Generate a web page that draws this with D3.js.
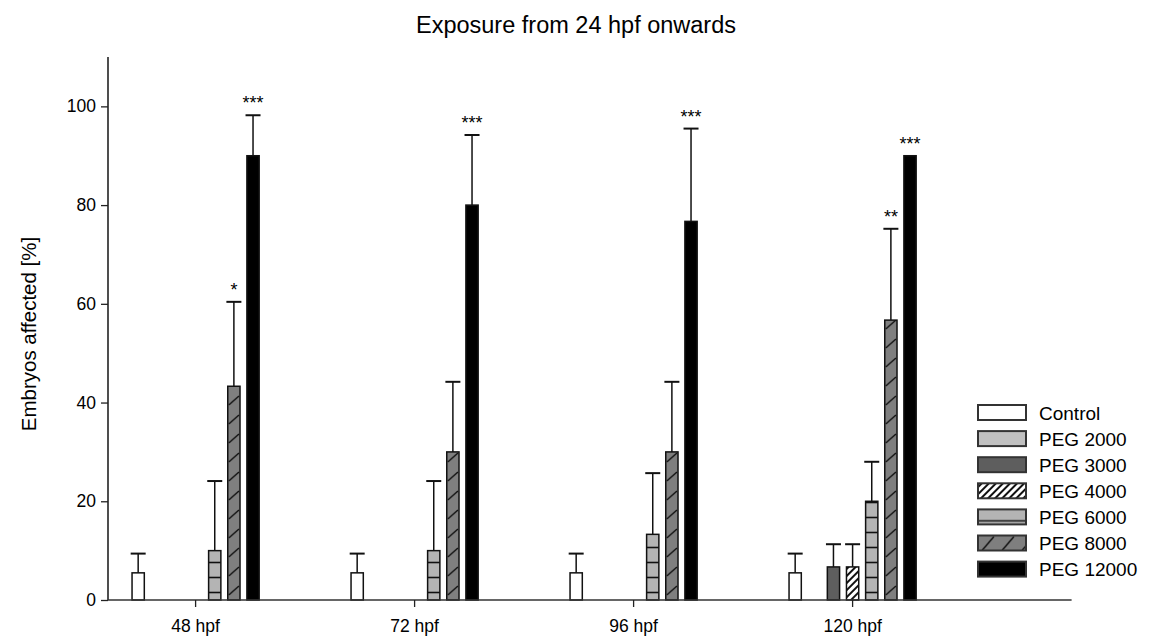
<!DOCTYPE html>
<html>
<head>
<meta charset="utf-8">
<script src="https://cdn.jsdelivr.net/npm/d3@7"></script>
<style>
body { margin: 0; background: #fff; }
svg { display: block; }
text { font-family: "Liberation Sans", Arial, sans-serif; fill: #000; }
</style>
</head>
<body>
<svg width="1150" height="644"></svg>
<script>
// ---- data ----
var groups = ["48 hpf", "72 hpf", "96 hpf", "120 hpf"];
var series = ["Control", "PEG 2000", "PEG 3000", "PEG 4000", "PEG 6000", "PEG 8000", "PEG 12000"];

// means per group (null = no bar drawn)
var control  = [5.5, 5.5, 5.5, 5.5];
var peg2000  = [null, null, null, null];
var peg3000  = [null, null, null, 6.7];
var peg4000  = [null, null, null, 6.7];
var peg6000  = [10, 10, 13.3, 20];
var peg8000  = [43.3, 30, 30, 56.7];
var peg12000 = [90, 80, 76.7, 90];

// standard deviations (upper error bar only)
var controlSd  = [3.9, 3.9, 3.9, 3.9];
var peg2000Sd  = [null, null, null, null];
var peg3000Sd  = [null, null, null, 4.6];
var peg4000Sd  = [null, null, null, 4.6];
var peg6000Sd  = [14.1, 14.1, 12.4, 8.0];
var peg8000Sd  = [17.1, 14.2, 14.2, 18.5];
var peg12000Sd = [8.2, 14.2, 18.8, 0];

// significance marks
var peg8000Sig  = ["*", "", "", "**"];
var peg12000Sig = ["***", "***", "***", "***"];

var yTicks = [0, 20, 40, 60, 80, 100];

var means = [control, peg2000, peg3000, peg4000, peg6000, peg8000, peg12000];
var sds = [controlSd, peg2000Sd, peg3000Sd, peg4000Sd, peg6000Sd, peg8000Sd, peg12000Sd];
var sigs = [null, null, null, null, null, peg8000Sig, peg12000Sig];

var svg = d3.select("svg");
var defs = svg.append("defs");

var xLeft = 108, xRight = 1071.6, step = 219;
var x0 = d3.scaleBand().domain(groups)
    .range([xLeft + 0.4 * step - 0.5 * step, xLeft + 3.9 * step]);
var x1 = d3.scaleBand().domain(series).range([-67, 67])
    .paddingInner(0.36).paddingOuter(0.18);
var y = d3.scaleLinear().domain([0, 110]).range([600, 57]);

var fills = {
    "Control": "#ffffff",
    "PEG 2000": "#c0c0c0",
    "PEG 3000": "#5e5e5e",
    "PEG 4000": "#ffffff",
    "PEG 6000": "#b4b4b4",
    "PEG 8000": "#7f7f7f",
    "PEG 12000": "#000000"
};

// hatching for PEG 4000
var hatch = defs.append("pattern").attr("id", "hatch4000")
    .attr("patternUnits", "userSpaceOnUse")
    .attr("width", 5).attr("height", 5)
    .attr("patternTransform", "rotate(45)");
hatch.append("rect").attr("width", 5).attr("height", 5).attr("fill", "#fff");
hatch.append("rect").attr("width", 2).attr("height", 5).attr("fill", "#111");

// build a pattern anchored at a bar (or swatch)
function makePattern(id, name, bx, by, bw, legend) {
    var p = defs.append("pattern").attr("id", id)
        .attr("patternUnits", "userSpaceOnUse")
        .attr("x", bx).attr("y", by);
    if (name === "PEG 6000") {
        p.attr("width", bw).attr("height", 15);
        p.append("rect").attr("width", bw).attr("height", 15).attr("fill", fills[name]);
        p.append("line").attr("x1", 0).attr("x2", bw)
            .attr("y1", legend ? 11.5 : 7.5).attr("y2", legend ? 11.5 : 7.5)
            .attr("stroke", "#111").attr("stroke-width", 1.6);
    } else if (name === "PEG 8000") {
        var h = legend ? 15 : 19, w = legend ? 20 : bw;
        p.attr("width", w).attr("height", h);
        p.append("rect").attr("width", w).attr("height", h).attr("fill", fills[name]);
        if (legend) {
            p.append("line").attr("x1", 4).attr("y1", 15).attr("x2", 16).attr("y2", 1)
                .attr("stroke", "#111").attr("stroke-width", 1.5);
        } else {
            p.append("line").attr("x1", 1).attr("y1", 14).attr("x2", w - 1).attr("y2", 5)
                .attr("stroke", "#111").attr("stroke-width", 1.5);
        }
    }
    return "url(#" + id + ")";
}

function fillFor(name, id, bx, by, bw, legend) {
    if (name === "PEG 4000") return "url(#hatch4000)";
    if (name === "PEG 6000" || name === "PEG 8000") return makePattern(id, name, bx, by, bw, legend);
    return fills[name];
}

// flatten to bar records
var bars = [];
series.forEach(function(s, si) {
    groups.forEach(function(g, gi) {
        if (means[si][gi] == null) return;
        bars.push({ series: s, si: si, group: g, gi: gi, value: means[si][gi],
            sd: sds[si][gi], sig: sigs[si] ? sigs[si][gi] : "" });
    });
});

function barX(d) { return x0(d.group) + x0.bandwidth() / 2 + x1(d.series); }
var bw = x1.bandwidth();

// title
svg.append("text").attr("x", 576).attr("y", 33).attr("text-anchor", "middle")
    .style("font-size", "23.5px").text("Exposure from 24 hpf onwards");

// y axis
var yAxis = svg.append("g").attr("transform", "translate(" + xLeft + ",0)")
    .call(d3.axisLeft(y).tickValues(yTicks).tickSize(7).tickPadding(5));
yAxis.select(".domain").remove();
yAxis.selectAll(".tick line").attr("stroke", "#222").attr("stroke-width", 1.3);
yAxis.selectAll(".tick text").style("font-size", "17.5px").style("font-family", "Liberation Sans, Arial, sans-serif");
svg.append("line").attr("x1", xLeft).attr("x2", xLeft).attr("y1", y(110)).attr("y2", y(0))
    .attr("stroke", "#222").attr("stroke-width", 1.6);

svg.append("text").attr("transform", "translate(36," + 334 + ") rotate(-90)")
    .attr("text-anchor", "middle").style("font-size", "20.5px").text("Embryos affected [%]");

// bars
svg.append("g").selectAll("rect").data(bars).enter().append("rect")
    .attr("x", barX)
    .attr("y", function(d) { return y(d.value); })
    .attr("width", bw)
    .attr("height", function(d) { return y(0) - y(d.value); })
    .attr("fill", function(d) {
        return fillFor(d.series, "p" + d.si + "_" + d.gi, barX(d), y(0), bw, false);
    })
    .attr("stroke", "#111").attr("stroke-width", 1.5);

// error bars
var eb = svg.append("g").selectAll("g").data(bars.filter(function(d) { return d.sd > 0; }))
    .enter().append("g");
eb.append("line")
    .attr("x1", function(d) { return barX(d) + bw / 2; })
    .attr("x2", function(d) { return barX(d) + bw / 2; })
    .attr("y1", function(d) { return y(d.value); })
    .attr("y2", function(d) { return y(d.value + d.sd); })
    .attr("stroke", "#111").attr("stroke-width", 1.5);
eb.append("line")
    .attr("x1", function(d) { return barX(d) + bw / 2 - 7.5; })
    .attr("x2", function(d) { return barX(d) + bw / 2 + 7.5; })
    .attr("y1", function(d) { return y(d.value + d.sd); })
    .attr("y2", function(d) { return y(d.value + d.sd); })
    .attr("stroke", "#111").attr("stroke-width", 2);

// significance stars
svg.append("g").selectAll("text").data(bars.filter(function(d) { return d.sig; }))
    .enter().append("text")
    .attr("x", function(d) { return barX(d) + bw / 2; })
    .attr("y", function(d) { return y(d.value + (d.sd || 0)) - 6; })
    .attr("text-anchor", "middle").style("font-size", "18px")
    .text(function(d) { return d.sig; });

// x axis
svg.append("line").attr("x1", xLeft).attr("x2", xRight).attr("y1", y(0)).attr("y2", y(0))
    .attr("stroke", "#333").attr("stroke-width", 1.6);
var xAxis = svg.append("g").attr("transform", "translate(0," + y(0) + ")")
    .call(d3.axisBottom(x0).tickSize(7).tickPadding(13));
xAxis.select(".domain").remove();
xAxis.selectAll(".tick line").attr("stroke", "#222").attr("stroke-width", 1.3);
xAxis.selectAll(".tick text").style("font-size", "17.5px").style("font-family", "Liberation Sans, Arial, sans-serif");

// legend
var lg = svg.append("g");
series.forEach(function(s, i) {
    var ly = 405 + i * 26.1;
    lg.append("rect").attr("x", 978).attr("y", ly).attr("width", 48).attr("height", 15)
        .attr("fill", fillFor(s, "leg" + i, 978, ly, 48, true))
        .attr("stroke", "#333").attr("stroke-width", 2);
    lg.append("text").attr("x", 1039).attr("y", ly + 8).attr("dy", "0.35em")
        .style("font-size", "19px").text(s);
});
</script>
</body>
</html>
